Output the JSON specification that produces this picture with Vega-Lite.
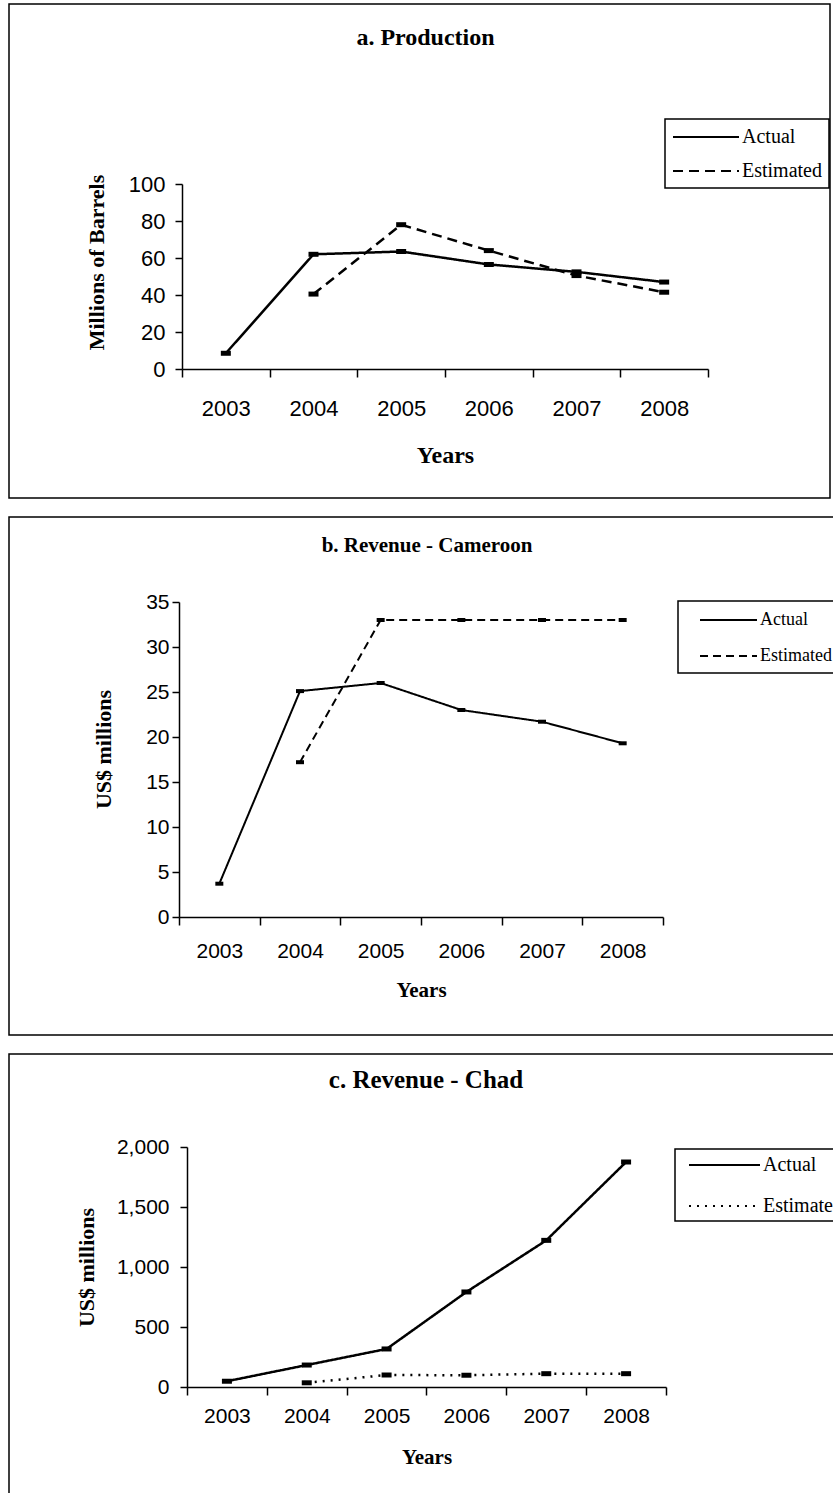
{
  "$schema": "https://vega.github.io/schema/vega-lite/v6.json",
  "padding": {"left": 8, "top": 3, "right": 0, "bottom": 0},
  "background": "white",
  "spacing": 17,
  "resolve": {"scale": {"strokeDash": "independent"}, "legend": {"strokeDash": "independent"}},
  "config": {
    "view": {"stroke": "black", "strokeWidth": 1.5},
    "axis": {"domainColor": "black", "domainWidth": 1.5, "tickColor": "black", "tickWidth": 1.5, "labelColor": "black", "titleColor": "black", "labelFont": "Liberation Sans", "titleFont": "Liberation Serif", "titleFontWeight": "bold", "grid": false},
    "legend": {"title": null, "orient": "none", "strokeColor": "black", "strokeWidth": 1.5, "fillColor": "white", "labelFont": "Liberation Serif", "labelColor": "black", "symbolStrokeColor": "black", "symbolSize": 400, "symbolStrokeWidth": 2, "labelLimit": 300},
    "title": {"font": "Liberation Serif", "fontWeight": "bold", "color": "black", "anchor": "middle", "frame": "group", "baseline": "middle"}
  },
  "vconcat": [
    {
      "width": 821,
      "height": 494,
      "title": {"text": "a. Production", "fontSize": 24, "offset": -46, "dx": 6},
      "data": {"values": [
        {"year": 2003, "value": 8.5, "series": "Actual"},
        {"year": 2004, "value": 62, "series": "Actual"},
        {"year": 2005, "value": 63.5, "series": "Actual"},
        {"year": 2006, "value": 56.5, "series": "Actual"},
        {"year": 2007, "value": 52.5, "series": "Actual"},
        {"year": 2008, "value": 47, "series": "Actual"},
        {"year": 2004, "value": 40.5, "series": "Estimated"},
        {"year": 2005, "value": 78, "series": "Estimated"},
        {"year": 2006, "value": 64, "series": "Estimated"},
        {"year": 2007, "value": 50.5, "series": "Estimated"},
        {"year": 2008, "value": 41.5, "series": "Estimated"}
      ]},
      "layer": [
        {
          "mark": {"type": "line", "color": "black", "strokeWidth": 2.5},
          "encoding": {
            "x": {"field": "year", "type": "ordinal", "scale": {"type": "band", "domain": [2003, 2004, 2005, 2006, 2007, 2008], "range": [173, 699], "paddingInner": 0, "paddingOuter": 0},
              "axis": {"orient": "bottom", "offset": -129, "tickBand": "extent", "tickSize": 8, "labelAngle": 0, "labelFontSize": 22, "labelPadding": 21, "title": "Years", "titleFontSize": 24, "titlePadding": 24}},
            "y": {"field": "value", "type": "quantitative", "scale": {"domain": [0, 100], "range": [365, 180], "nice": false},
              "axis": {"offset": -173, "values": [0, 20, 40, 60, 80, 100], "tickSize": 7, "labelPadding": 10, "labelFontSize": 22, "title": "Millions of Barrels", "titleFontSize": 22, "titlePadding": 20, "titleY": 258}},
            "strokeDash": {"field": "series", "type": "nominal", "scale": {"domain": ["Actual", "Estimated"], "range": [[1, 0], [10, 6]]},
              "legend": {"legendX": 656, "legendY": 115, "padding": 7, "symbolType": "M-1,0L5.6,0", "labelOffset": 48, "labelFontSize": 20, "rowPadding": 13}}
          }
        },
        {
          "mark": {"type": "point", "shape": "M-1,-0.5L1,-0.5L1,0.5L-1,0.5Z", "filled": true, "color": "black", "size": 100, "opacity": 1},
          "encoding": {
            "x": {"field": "year", "type": "ordinal"},
            "y": {"field": "value", "type": "quantitative"}
          }
        }
      ]
    },
    {
      "width": 826,
      "height": 518,
      "title": {"text": "b. Revenue - Cameroon", "fontSize": 21, "offset": -39, "dx": 5},
      "data": {"values": [
        {"year": 2003, "value": 3.7, "series": "Actual"},
        {"year": 2004, "value": 25.1, "series": "Actual"},
        {"year": 2005, "value": 26, "series": "Actual"},
        {"year": 2006, "value": 23, "series": "Actual"},
        {"year": 2007, "value": 21.7, "series": "Actual"},
        {"year": 2008, "value": 19.3, "series": "Actual"},
        {"year": 2004, "value": 17.2, "series": "Estimated"},
        {"year": 2005, "value": 33, "series": "Estimated"},
        {"year": 2006, "value": 33, "series": "Estimated"},
        {"year": 2007, "value": 33, "series": "Estimated"},
        {"year": 2008, "value": 33, "series": "Estimated"}
      ]},
      "layer": [
        {
          "mark": {"type": "line", "color": "black", "strokeWidth": 2},
          "encoding": {
            "x": {"field": "year", "type": "ordinal", "scale": {"type": "band", "domain": [2003, 2004, 2005, 2006, 2007, 2008], "range": [170, 654], "paddingInner": 0, "paddingOuter": 0},
              "axis": {"orient": "bottom", "offset": -118, "tickBand": "extent", "tickSize": 8, "labelAngle": 0, "labelFontSize": 21, "labelPadding": 15, "title": "Years", "titleFontSize": 21, "titlePadding": 18}},
            "y": {"field": "value", "type": "quantitative", "scale": {"domain": [0, 35], "range": [400, 85], "nice": false},
              "axis": {"offset": -170, "values": [0, 5, 10, 15, 20, 25, 30, 35], "tickSize": 7, "labelPadding": 3, "labelFontSize": 21, "title": "US$ millions", "titleFontSize": 22, "titlePadding": 30, "titleY": 232}},
            "strokeDash": {"field": "series", "type": "nominal", "scale": {"domain": ["Actual", "Estimated"], "range": [[1, 0], [8, 5]]},
              "legend": {"legendX": 669, "legendY": 84, "padding": 8, "symbolType": "M0.3,0L6,0", "labelOffset": 52, "labelFontSize": 18, "rowPadding": 16}}
          }
        },
        {
          "mark": {"type": "point", "shape": "M-1,-0.5L1,-0.5L1,0.5L-1,0.5Z", "filled": true, "color": "black", "size": 64, "opacity": 1},
          "encoding": {
            "x": {"field": "year", "type": "ordinal"},
            "y": {"field": "value", "type": "quantitative"}
          }
        }
      ]
    },
    {
      "width": 826,
      "height": 450,
      "title": {"text": "c. Revenue - Chad", "fontSize": 25, "offset": -39, "dx": 4},
      "data": {"values": [
        {"year": 2003, "value": 48, "series": "Actual"},
        {"year": 2004, "value": 183, "series": "Actual"},
        {"year": 2005, "value": 317, "series": "Actual"},
        {"year": 2006, "value": 792, "series": "Actual"},
        {"year": 2007, "value": 1222, "series": "Actual"},
        {"year": 2008, "value": 1875, "series": "Actual"},
        {"year": 2004, "value": 35, "series": "Estimated"},
        {"year": 2005, "value": 100, "series": "Estimated"},
        {"year": 2006, "value": 98, "series": "Estimated"},
        {"year": 2007, "value": 111, "series": "Estimated"},
        {"year": 2008, "value": 111, "series": "Estimated"}
      ]},
      "layer": [
        {
          "mark": {"type": "line", "color": "black", "strokeWidth": 2.5},
          "encoding": {
            "x": {"field": "year", "type": "ordinal", "scale": {"type": "band", "domain": [2003, 2004, 2005, 2006, 2007, 2008], "range": [178, 657], "paddingInner": 0, "paddingOuter": 0},
              "axis": {"orient": "bottom", "offset": -117, "tickBand": "extent", "tickSize": 8, "labelAngle": 0, "labelFontSize": 21, "labelPadding": 10, "title": "Years", "titleFontSize": 21, "titlePadding": 20}},
            "y": {"field": "value", "type": "quantitative", "scale": {"domain": [0, 2000], "range": [333, 93], "nice": false},
              "axis": {"offset": -178, "values": [0, 500, 1000, 1500, 2000], "format": ",.0f", "tickSize": 7, "labelPadding": 11, "labelFontSize": 21, "title": "US$ millions", "titleFontSize": 22, "titlePadding": 18}},
            "strokeDash": {"field": "series", "type": "nominal", "scale": {"domain": ["Actual", "Estimated"], "range": [[1, 0], [2, 6]]},
              "legend": {"legendX": 666, "legendY": 95, "padding": 5, "symbolType": "M-0.2,0L6.9,0", "labelOffset": 61, "labelFontSize": 20, "rowPadding": 20}}
          }
        },
        {
          "mark": {"type": "point", "shape": "M-1,-0.5L1,-0.5L1,0.5L-1,0.5Z", "filled": true, "color": "black", "size": 100, "opacity": 1},
          "encoding": {
            "x": {"field": "year", "type": "ordinal"},
            "y": {"field": "value", "type": "quantitative"}
          }
        }
      ]
    }
  ]
}
